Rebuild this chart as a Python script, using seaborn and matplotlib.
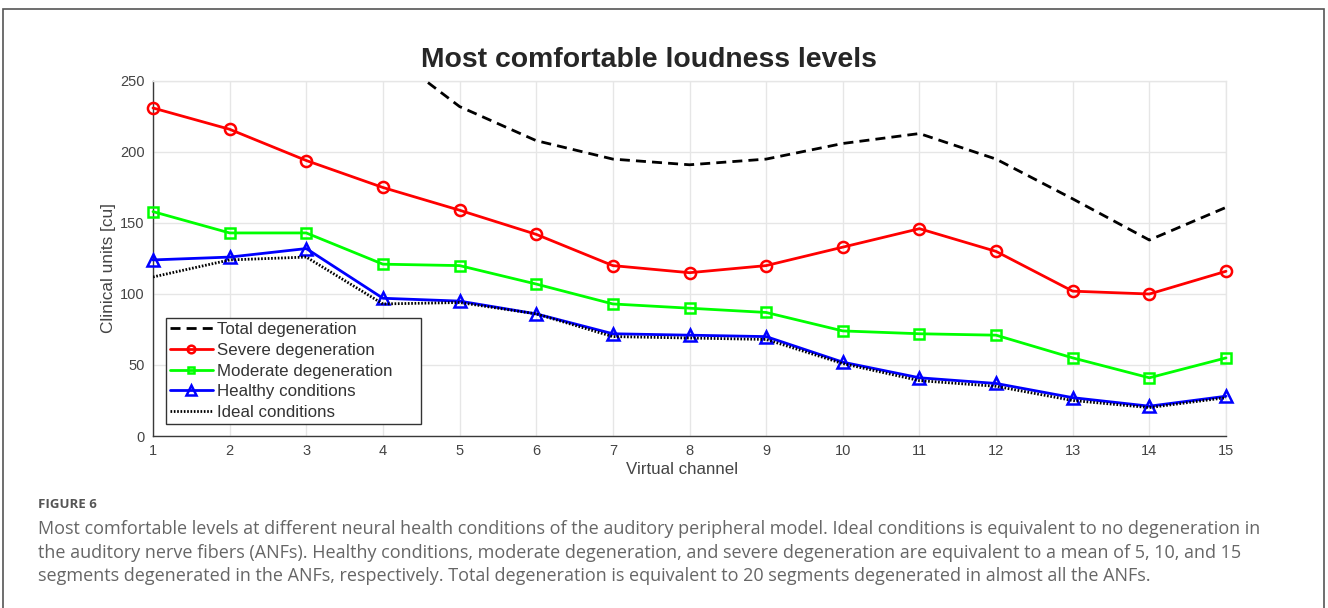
import matplotlib
matplotlib.use("Agg")
import matplotlib.pyplot as plt
import seaborn as sns
import pandas as pd
from matplotlib.patches import Rectangle

channels = list(range(1, 16))
total_degeneration = [330, 310, 290, 273, 232, 208, 195, 191, 195, 206, 213, 195, 167, 138, 161]
severe_degeneration = [231, 216, 194, 175, 159, 142, 120, 115, 120, 133, 146, 130, 102, 100, 116]
moderate_degeneration = [158, 143, 143, 121, 120, 107, 93, 90, 87, 74, 72, 71, 55, 41, 55]
healthy_conditions = [124, 126, 132, 97, 95, 86, 72, 71, 70, 52, 41, 37, 27, 21, 28]
ideal_conditions = [112, 124, 126, 93, 94, 86, 70, 69, 68, 51, 39, 35, 25, 20, 27]
series_labels = ["Total degeneration", "Severe degeneration", "Moderate degeneration",
                 "Healthy conditions", "Ideal conditions"]
y_ticks = [0, 50, 100, 150, 200, 250]

title_text = "Most comfortable loudness levels"
xlabel_text = "Virtual channel"
ylabel_text = "Clinical units [cu]"
fig_label = "FIGURE 6"
caption_lines = [
    "Most comfortable levels at different neural health conditions of the auditory peripheral model. Ideal conditions is equivalent to no degeneration in",
    "the auditory nerve fibers (ANFs). Healthy conditions, moderate degeneration, and severe degeneration are equivalent to a mean of 5, 10, and 15",
    "segments degenerated in the ANFs, respectively. Total degeneration is equivalent to 20 segments degenerated in almost all the ANFs.",
]

sns.set_theme(style="white")
plt.rcParams['font.family'] = ['Liberation Sans', 'DejaVu Sans']

W, H = 1328, 608
fig = plt.figure(figsize=(W / 100, H / 100), dpi=100)
ax = fig.add_axes([153 / W, 1 - 436 / H, (1226 - 153) / W, (436 - 81) / H])

df = pd.DataFrame({
    "channel": channels * 5,
    "value": total_degeneration + severe_degeneration + moderate_degeneration
             + healthy_conditions + ideal_conditions,
    "series": sum([[s] * 15 for s in series_labels], []),
})

styles = {
    "Total degeneration": dict(color="black", linestyle=(0, (3.6, 2.2)), marker=None, ms=0, lms=0, clip_on=True, z=3),
    "Severe degeneration": dict(color="#ff0000", linestyle="-", marker="o", ms=8, lms=5.5, clip_on=False, z=4),
    "Moderate degeneration": dict(color="#00ff00", linestyle="-", marker="s", ms=7, lms=4.5, clip_on=False, z=4),
    "Healthy conditions": dict(color="#0000ff", linestyle="-", marker="^", ms=9, lms=7, clip_on=False, z=3),
    "Ideal conditions": dict(color="black", linestyle=(0, (0.6, 0.6)), marker=None, ms=0, lms=0, clip_on=True, z=4),
}

for name in series_labels:
    sub = df[df["series"] == name]
    st = styles[name]
    kw = dict(color=st["color"], linestyle=st["linestyle"], linewidth=2.0,
              label=name, clip_on=st["clip_on"], zorder=st["z"])
    if st["marker"] is not None:
        kw.update(marker=st["marker"], markersize=st["ms"],
                  markerfacecolor="none", markeredgecolor=st["color"], markeredgewidth=1.8)
    sns.lineplot(data=sub, x="channel", y="value", ax=ax, **kw)

ax.set_xlim(1, 15)
ax.set_ylim(0, 250)
ax.set_xticks(channels)
ax.set_yticks(y_ticks)
ax.grid(True, color="#e6e6e6", linewidth=1.0)
ax.set_axisbelow(True)
for s in ["top", "right"]:
    ax.spines[s].set_color("#e6e6e6")
    ax.spines[s].set_linewidth(1.0)
for s in ["left", "bottom"]:
    ax.spines[s].set_color("#3a3a3a")
    ax.spines[s].set_linewidth(1.0)
ax.tick_params(axis="both", direction="in", length=8, width=1.0, color="#3a3a3a",
               labelsize=10.5, labelcolor="#444444")
ax.tick_params(axis="x", pad=6)
ax.tick_params(axis="y", pad=6)

fig.text(649 / W, 1 - 67 / H, title_text, fontsize=20.4, fontweight="bold",
         color="#262626", ha="center", va="baseline")
ax.set_xlabel(xlabel_text, fontsize=12.2, color="#444444")
ax.xaxis.set_label_coords((682 - 153) / 1073, (436 - 462) / 355)
ax.set_ylabel(ylabel_text, fontsize=12.4, color="#444444")
ax.yaxis.set_label_coords((116 - 153) / 1073, (436 - 268) / 355)

leg_x0 = (166 - 153) / 1073
leg_y0 = (436 - 424) / 355
leg_w = (421 - 166) / 1073
leg_h = (424 - 315) / 355
leg = ax.legend(loc="lower left", bbox_to_anchor=(leg_x0, leg_y0, leg_w, leg_h),
                mode="expand", borderaxespad=0,
                fancybox=False, frameon=True, fontsize=12.2, handlelength=2.5,
                handletextpad=0.25, labelspacing=0.33, borderpad=0.25)
leg.get_frame().set_edgecolor("#333333")
leg.get_frame().set_linewidth(1.0)
leg.get_frame().set_facecolor("white")
leg.get_frame().set_alpha(1)
for t in leg.get_texts():
    t.set_color("#333333")
for h, name in zip(leg.legend_handles, series_labels):
    if styles[name]["marker"] is not None:
        h.set_markersize(styles[name]["lms"])

fig.text(38 / W, 1 - 505 / H, fig_label, fontsize=9.5, color="#555555", fontweight="bold",
         va="center", ha="left", family=["Open Sans", "DejaVu Sans"])
for i, line in enumerate(caption_lines):
    fig.text(38 / W, 1 - (529 + 23.5 * i) / H, line, fontsize=13, color="#666666",
             va="center", ha="left", family=["Open Sans", "DejaVu Sans"])

fig.patches.append(Rectangle((3 / W, -0.02), 1321 / W, 1.02 - 9 / H,
                             transform=fig.transFigure, fill=False,
                             edgecolor="#555555", linewidth=1.2))

fig.savefig("out.png", dpi=100)
